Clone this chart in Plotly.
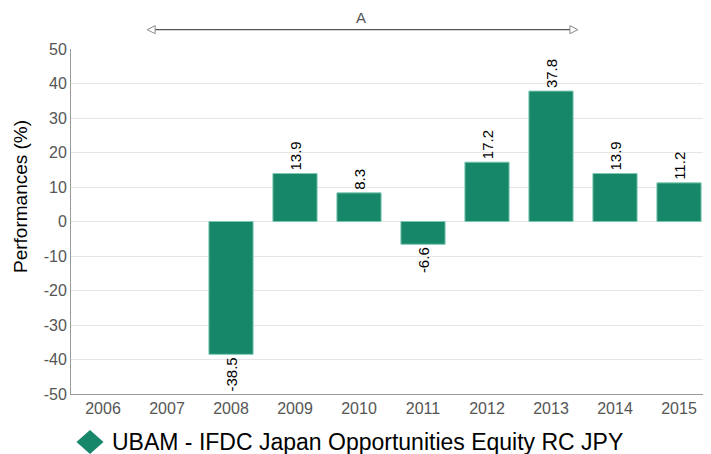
import plotly.graph_objects as go

years = ["2006", "2007", "2008", "2009", "2010", "2011", "2012", "2013", "2014", "2015"]
perf = [None, None, -38.5, 13.9, 8.3, -6.6, 17.2, 37.8, 13.9, 11.2]
labels = ["", "", "-38.5", "13.9", "8.3", "-6.6", "17.2", "37.8", "13.9", "11.2"]
y_ticks = [-50, -40, -30, -20, -10, 0, 10, 20, 30, 40, 50]
y_ticktext = ["-50", "-40", "-30", "-20", "-10", "0", "10", "20", "30", "40", "50"]
series_name = "UBAM - IFDC Japan Opportunities Equity RC JPY"
y_title = "Performances (%)"
period_label = "A"
period_start = 0.69   # in category-index units
period_end = 7.42

GREEN = "#17876a"
FONT = "Liberation Sans, Arial, sans-serif"
n = len(years)
PLOT_W, PLOT_H = 640, 345

def to_paper(idx):
    return (idx + 0.5) / n

fig = go.Figure()
fig.add_trace(go.Bar(
    x=list(range(n)), y=perf, text=labels, name=series_name,
    textposition="outside", textangle=-90,
    textfont=dict(family=FONT, size=15, color="#000000"),
    marker=dict(color=GREEN, line=dict(color="#7cc7b0", width=1)),
    width=0.69, cliponaxis=False, showlegend=False, hoverinfo="skip",
))

# period arrow "A"
ARROW_Y = 1.056
xs, xe = to_paper(period_start), to_paper(period_end)
fig.add_shape(type="line", xref="paper", yref="paper", x0=xs + 0.012, x1=xe - 0.012,
              y0=ARROW_Y, y1=ARROW_Y, line=dict(color="#555555", width=1.3))
fig.add_shape(type="path", xref="paper", yref="paper", xsizemode="pixel", ysizemode="pixel",
              xanchor=xs, yanchor=ARROW_Y, path="M 0,0 L 8,4 L 8,-4 Z",
              line=dict(color="#888888", width=1), fillcolor="white")
fig.add_shape(type="path", xref="paper", yref="paper", xsizemode="pixel", ysizemode="pixel",
              xanchor=xe, yanchor=ARROW_Y, path="M 0,0 L -8,4 L -8,-4 Z",
              line=dict(color="#888888", width=1), fillcolor="white")
fig.add_annotation(x=(xs + xe) / 2 - 0.003, y=1.09, xref="paper", yref="paper",
                   text=period_label, showarrow=False, yanchor="middle",
                   font=dict(family=FONT, size=15, color="#555555"))

# y-axis title (placed as annotation to match the reference's offset)
fig.add_annotation(x=-51 / PLOT_W, y=197 / PLOT_H, xref="paper", yref="paper",
                   text=y_title, showarrow=False, textangle=-90,
                   xanchor="center", yanchor="middle",
                   font=dict(family=FONT, size=19, color="#000000"))

# custom legend (diamond + label)
LEG_Y = -48 / PLOT_H
fig.add_shape(type="path", xref="paper", yref="paper", xsizemode="pixel", ysizemode="pixel",
              xanchor=19 / PLOT_W, yanchor=LEG_Y,
              path="M -13.5,0 L 0,12 L 13.5,0 L 0,-12 Z",
              line=dict(color=GREEN, width=0), fillcolor=GREEN)
fig.add_annotation(x=39 / PLOT_W, y=LEG_Y, xref="paper", yref="paper",
                   text=series_name, showarrow=False, xanchor="left", yanchor="middle",
                   font=dict(family=FONT, size=23, color="#000000"))

fig.update_layout(
    width=711, height=454,
    margin=dict(l=63, r=8, t=41, b=68, autoexpand=False),
    paper_bgcolor="white", plot_bgcolor="white",
    font=dict(family=FONT),
    showlegend=False,
)
fig.update_xaxes(
    tickmode="array", tickvals=list(range(n)), ticktext=years,
    range=[-0.5, n - 0.5],
    showline=True, linecolor="#999999", linewidth=1,
    showgrid=False, ticks="",
    tickfont=dict(family=FONT, size=16, color="#555555"),
)
fig.update_yaxes(
    range=[-50, 50], tickmode="array", tickvals=y_ticks, ticktext=y_ticktext,
    showline=True, linecolor="#999999", linewidth=1,
    gridcolor="#e6e6e6", gridwidth=1, zeroline=False,
    tickfont=dict(family=FONT, size=16, color="#555555"),
)

fig.write_html("out.html")
